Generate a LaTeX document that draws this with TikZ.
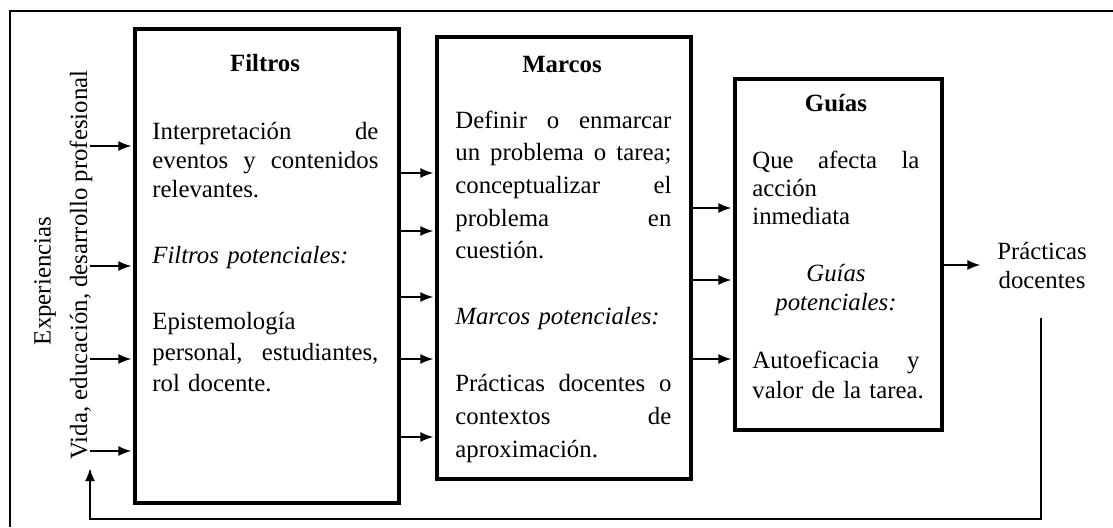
\documentclass[tikz,border=0pt]{standalone}
\usepackage{fontspec}
\setmainfont{Liberation Serif}
\usetikzlibrary{arrows.meta}
\begin{document}
\begin{tikzpicture}[x=0.5pt,y=-0.5pt,
  box/.style={draw, line width=2pt, anchor=north west, inner sep=0pt},
  arr/.style={line width=0.9pt, -{Latex[length=6.5pt,width=5pt]}, shorten >=0.8pt},
  fbarr/.style={line width=1.2pt, -{Latex[length=6.5pt,width=5pt]}},
  frame/.style={line width=1pt},
  txt/.style={inner sep=0pt, font=\fontsize{12.4pt}{14.75pt}\selectfont},
  para/.style={txt, anchor=base west, align=left},
  ttl/.style={txt, anchor=base, font=\fontsize{12.4pt}{14.75pt}\selectfont\bfseries},
]
\useasboundingbox (0,0) rectangle (1113,527);
% outer frame (cropped)
\draw[frame] (1113,11) -- (10,11) -- (10,527);

% boxes
\node[box, minimum width=132pt, minimum height=237pt] (filtros) at (133,27) {};
\node[box, minimum width=127pt, minimum height=221pt] (marcos) at (435,35) {};
\node[box, minimum width=103.5pt, minimum height=175.5pt] (guias) at (733,77) {};

% Filtros texts
\node[ttl] (tf) at (265,71) {Filtros};
\node[para, text width=113pt, font=\fontsize{12.4pt}{14.5pt}\selectfont] (f1) at (152,139) {Interpretación\hfill de\\ eventos\hfill y\hfill contenidos\\ relevantes.};
\node[para, text width=113pt, font=\fontsize{12.4pt}{14.75pt}\selectfont\itshape] (f2) at (152,263) {Filtros potenciales:};
\node[para, text width=113pt, font=\fontsize{12.4pt}{15.5pt}\selectfont] (f3) at (152,329) {Epistemología\\ personal,\hfill estudiantes,\\ rol docente.};

% Marcos texts
\node[ttl] (tm) at (562,72) {Marcos};
\node[para, text width=108pt, font=\fontsize{12.4pt}{16.35pt}\selectfont] (m1) at (455,128) {Definir\hfill o\hfill enmarcar\\ un\hfill problema\hfill o\hfill tarea;\\ conceptualizar\hfill el\\ problema\hfill en\\ cuestión.};
\node[para, text width=108pt, font=\fontsize{12.4pt}{16.35pt}\selectfont\itshape] (m2) at (455,324) {Marcos potenciales:};
\node[para, text width=108pt, font=\fontsize{12.4pt}{16.6pt}\selectfont] (m3) at (455,391) {Prácticas\hfill docentes\hfill o\\ contextos\hfill de\\ aproximación.};

% Guias texts
\node[ttl] (tg) at (836,111) {Guías};
\node[para, text width=90pt, font=\fontsize{12.4pt}{14pt}\selectfont] (g1) at (752,168) {\hbox to 83.5pt{Que\hfill afecta\hfill la}\\ acción\\ inmediata};
\node[txt, anchor=base, align=center, text width=90pt, font=\fontsize{12.4pt}{14.5pt}\selectfont\itshape] (g2) at (836,281) {Guías\\ potenciales:};
\node[para, text width=90pt, font=\fontsize{12.4pt}{15pt}\selectfont] (g3) at (752,368) {\hbox to 83.5pt{Autoeficacia\hfill y}\\ valor de la tarea.};

% Practicas docentes
\node[txt, anchor=base, align=center, text width=60pt] (prac) at (1042,259) {Prácticas\\ docentes};

% left labels
\node[txt, rotate=90] (exp) at (45,281) {Experiencias};
\node[txt, rotate=90] (vida) at (81,265) {Vida, educación, desarrollo profesional};

% input arrows
\foreach \y [count=\i] in {146,266,359,451} {
  \coordinate (in\i) at (90,\y);
  \draw[arr] (in\i) -- (in\i -| filtros.west);
}
% Filtros -> Marcos
\foreach \y [count=\i] in {173,231,297,359,437} {
  \coordinate (fm\i) at (0,\y);
  \draw[arr] (fm\i -| filtros.east) -- (fm\i -| marcos.west);
}
% Marcos -> Guias
\foreach \y [count=\i] in {208,280,359} {
  \coordinate (mg\i) at (0,\y);
  \draw[arr] (mg\i -| marcos.east) -- (mg\i -| guias.west);
}
% Guias -> Practicas
\coordinate (gp) at (982,265);
\draw[arr] (gp -| guias.east) -- (gp);

% feedback loop
\coordinate (fbtop) at (1041,318);
\coordinate (fbcorner) at (90,519);
\coordinate (fbtip) at (90,468);
\draw[fbarr] (fbtop) |- (fbcorner) -- (fbtip);
\end{tikzpicture}
\end{document}
